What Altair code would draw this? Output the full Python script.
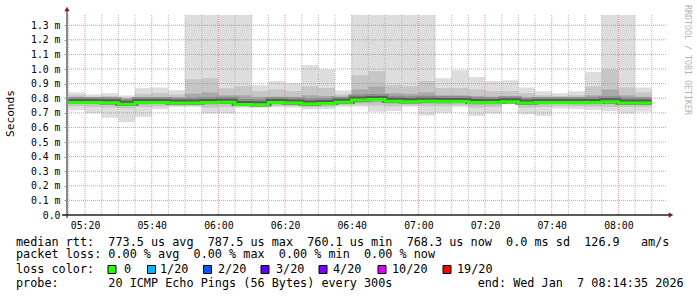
import altair as alt
import pandas as pd

# ---- data (ms) ----
box_start = [315 + 5 * i for i in range(35)]  # minutes since 00:00, 5-min steps
hi1 = [0.840, 0.826, 0.834, 0.819, 0.869, 0.873, 0.855, 1.370, 1.370, 1.370, 1.370, 0.889,
       0.917, 0.903, 1.026, 0.996, 0.853, 1.370, 1.370, 1.370, 1.370, 1.370, 0.937, 0.992,
       0.946, 0.917, 0.923, 0.873, 0.848, 0.834, 0.848, 0.980, 1.370, 1.370, 0.873]
hi2 = [0.820, 0.810, 0.815, 0.805, 0.830, 0.835, 0.825, 0.930, 0.937, 0.867, 0.882, 0.850,
       0.860, 0.850, 0.880, 0.870, 0.825, 0.958, 0.985, 0.889, 0.882, 0.917, 0.870, 0.870,
       0.860, 0.850, 0.850, 0.835, 0.820, 0.815, 0.820, 0.880, 0.996, 0.873, 0.840]
hi3 = [0.800, 0.795, 0.798, 0.790, 0.800, 0.805, 0.800, 0.830, 0.840, 0.820, 0.820, 0.810,
       0.810, 0.810, 0.820, 0.815, 0.800, 0.860, 0.880, 0.835, 0.830, 0.840, 0.820, 0.820,
       0.815, 0.810, 0.810, 0.800, 0.795, 0.795, 0.798, 0.820, 0.860, 0.820, 0.810]
median = [0.771, 0.771, 0.769, 0.759, 0.771, 0.771, 0.768, 0.768, 0.771, 0.773, 0.757, 0.755,
          0.771, 0.768, 0.761, 0.764, 0.773, 0.787, 0.791, 0.780, 0.775, 0.780, 0.777, 0.777,
          0.770, 0.771, 0.775, 0.768, 0.771, 0.771, 0.770, 0.771, 0.775, 0.768, 0.768]
lo3 = [0.760, 0.760, 0.755, 0.748, 0.758, 0.760, 0.758, 0.756, 0.757, 0.760, 0.748, 0.745,
       0.758, 0.755, 0.750, 0.752, 0.762, 0.770, 0.772, 0.765, 0.762, 0.765, 0.762, 0.765,
       0.756, 0.757, 0.766, 0.755, 0.758, 0.760, 0.758, 0.758, 0.760, 0.755, 0.755]
lo2 = [0.745, 0.740, 0.735, 0.730, 0.740, 0.745, 0.748, 0.748, 0.735, 0.740, 0.742, 0.740,
       0.748, 0.745, 0.738, 0.740, 0.752, 0.755, 0.750, 0.745, 0.752, 0.745, 0.745, 0.752,
       0.735, 0.740, 0.762, 0.735, 0.740, 0.748, 0.745, 0.742, 0.740, 0.740, 0.740]
lo1 = [0.718, 0.696, 0.666, 0.636, 0.672, 0.725, 0.740, 0.740, 0.696, 0.696, 0.735, 0.735,
       0.737, 0.737, 0.723, 0.725, 0.741, 0.741, 0.707, 0.713, 0.741, 0.682, 0.700, 0.741,
       0.679, 0.694, 0.759, 0.690, 0.679, 0.730, 0.727, 0.718, 0.711, 0.693, 0.709]

y_ticks = [0.0, 0.1, 0.2, 0.3, 0.4, 0.5, 0.6, 0.7, 0.8, 0.9, 1.0, 1.1, 1.2, 1.3]
x_major = [320, 340, 360, 380, 400, 420, 440, 460, 480]
x_minor = [315 + 5 * i for i in range(36)]

footer_lines = [
    "median rtt:  773.5 us avg  787.5 us max  760.1 us min  768.3 us now  0.0 ms sd  126.9   am/s",
    "packet loss: 0.00 % avg  0.00 % max  0.00 % min  0.00 % now",
    "loss color:",
    "probe:       20 ICMP Echo Pings (56 Bytes) every 300s            end: Wed Jan  7 08:14:35 2026",
]
loss_labels = ["0", "1/20", "2/20", "3/20", "4/20", "10/20", "19/20"]
loss_colors = ["#26ff00", "#00b8ff", "#0059ff", "#5e00ff", "#7e00ff", "#dd00ff", "#ff0000"]
credit = "RRDTOOL / TOBI OETIKER"

# ---- frames ----
df = pd.DataFrame({
    "t0": box_start, "t1": [t + 5 for t in box_start],
    "hi1": hi1, "hi2": hi2, "hi3": hi3, "lo3": lo3, "lo2": lo2, "lo1": lo1, "med": median,
})
line_df = pd.DataFrame({"t": box_start + [box_start[-1] + 5], "med": median + [median[-1]]})

MONO = "DejaVu Sans Mono"
NB = "\u00a0"

xs = alt.Scale(domain=[314 + 35 / 60, 494 + 35 / 60], nice=False, zero=False)
ys = alt.Scale(domain=[0, 1.37], nice=False, zero=False)

xaxis = alt.Axis(values=x_major, labelExpr="utcFormat(datum.value*60000, '%H:%M')", title=None,
                 grid=False, domain=False, ticks=False, labelPadding=5, labelFont=MONO,
                 labelFontSize=9.8, labelColor="#000000", labelFlush=False, labelOverlap=False)
yaxis = alt.Axis(values=y_ticks,
                 labelExpr="datum.value == 0 ? '0.0" + NB + NB + "' : format(datum.value, '.1f') + ' m'",
                 title="Seconds", titleFont=MONO, titleFontSize=11.2, titleFontWeight="normal",
                 titleColor="#000000", titleX=-57, titleY=98, titleBaseline="middle",
                 grid=False, domain=False, tickSize=3, tickColor="#999999", labelPadding=4,
                 labelFont=MONO, labelFontSize=9.8, labelColor="#000000", labelOverlap=False)

X = lambda f: alt.X(f, type="quantitative", scale=xs, axis=xaxis)
Y = lambda f: alt.Y(f, type="quantitative", scale=ys, axis=yaxis)

layers = []
for lo, hi, col in [("lo1", "hi1", "#dddddd"), ("lo2", "hi2", "#c6c6c6"), ("lo3", "hi3", "#a9a9a9")]:
    layers.append(alt.Chart(df).mark_rect(color=col, clip=True).encode(
        x=X("t0"), x2="t1", y=Y(lo), y2=hi))

# grid
gx_minor = pd.DataFrame({"g": [v for v in x_minor if v not in x_major]})
gx_major = pd.DataFrame({"g": x_major})
gy = pd.DataFrame({"g": y_ticks[1:]})
layers.append(alt.Chart(gx_minor).mark_rule(color="#a8a8a8", strokeDash=[1, 1], strokeWidth=1,
                                            opacity=0.8).encode(
    x=X("g"), y=alt.value(0), y2=alt.value(200)))
layers.append(alt.Chart(gx_major).mark_rule(color="#e07070", strokeDash=[1, 1], strokeWidth=1,
                                            opacity=0.75).encode(
    x=X("g"), y=alt.value(0), y2=alt.value(200)))
layers.append(alt.Chart(gy).mark_rule(color="#e07070", strokeDash=[1, 1], strokeWidth=1,
                                      opacity=0.75).encode(
    y=Y("g"), x=alt.value(0), x2=alt.value(600)))

# median band & line
for w, col, off in [(7, "#8e8e8e", -2.0), (5, "#5c5c5c", -1.0), (3, "#26ff00", 0)]:
    layers.append(alt.Chart(line_df).mark_line(interpolate="step-after", color=col, strokeWidth=w,
                                               yOffset=off, clip=True).encode(
        x=X("t"), y=Y("med")))

# axis lines & arrows
one = pd.DataFrame({"k": [0]})
layers.append(alt.Chart(one).mark_rule(color="#8a8a8a", strokeWidth=2).encode(
    x=alt.value(0), y=alt.value(-5), y2=alt.value(203)))
layers.append(alt.Chart(one).mark_rule(color="#222222", strokeWidth=1.5).encode(
    x=alt.value(-5), x2=alt.value(602), y=alt.value(200)))
layers.append(alt.Chart(one).mark_point(shape="triangle-up", filled=True, color="#8b1a1a",
                                        size=28, opacity=1).encode(
    x=alt.value(0), y=alt.value(-6)))
layers.append(alt.Chart(one).mark_point(shape="triangle-right", filled=True, color="#8b1a1a",
                                        size=28, opacity=1).encode(
    x=alt.value(604), y=alt.value(200)))

# credit
layers.append(alt.Chart(pd.DataFrame({"s": [credit]})).mark_text(
    angle=90, align="center", baseline="middle", font=MONO, fontSize=8.3, color="#b4b4b4").encode(
    x=alt.value(620), y=alt.value(45), text="s:N"))

# footer
line_y = [226.7, 239.3, 254.3, 267.7]
for txt, yy in zip(footer_lines, line_y):
    layers.append(alt.Chart(pd.DataFrame({"s": [txt.replace(" ", NB)]})).mark_text(
        align="left", baseline="middle", font=MONO, fontSize=11.8, color="#000000").encode(
        x=alt.value(-51), y=alt.value(yy), text="s:N"))

sq_x = [45, 84.5, 140.5, 198, 256, 315, 380]
lab_x = [57, 93, 151, 209, 266, 325, 390]
for lab, col, sx, lx in zip(loss_labels, loss_colors, sq_x, lab_x):
    layers.append(alt.Chart(pd.DataFrame({"s": [lab]})).mark_square(
        size=64, color=col, filled=True, stroke="#000000", strokeWidth=1, opacity=1).encode(
        x=alt.value(sx), y=alt.value(254.5)))
    layers.append(alt.Chart(pd.DataFrame({"s": [lab]})).mark_text(
        align="left", baseline="middle", font=MONO, fontSize=11.8, color="#000000").encode(
        x=alt.value(lx), y=alt.value(254.3), text="s:N"))

chart = alt.layer(*layers).properties(
    width=600, height=200,
    autosize=alt.AutoSizeParams(type="none"),
    padding={"left": 67, "top": 15, "right": 30, "bottom": 82},
    background="#ffffff",
).configure_view(stroke=None)

chart.save("out.html", embed_options={"renderer": "svg", "actions": False})
